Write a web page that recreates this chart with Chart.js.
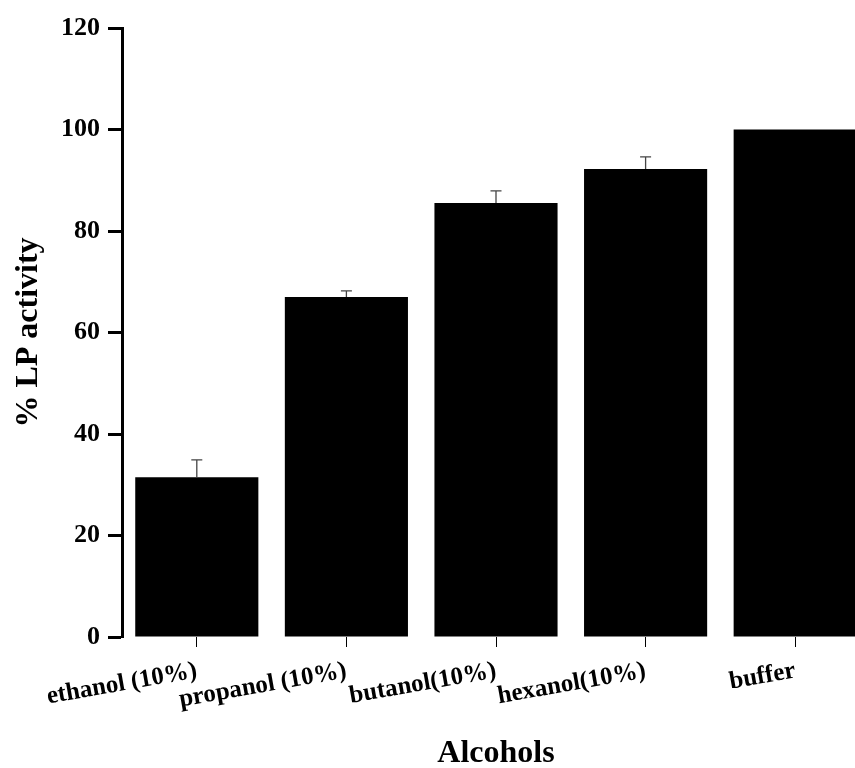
<!DOCTYPE html>
<html>
<head>
<meta charset="utf-8">
<script src="https://cdn.jsdelivr.net/npm/chart.js@4"></script>
<style>
  html, body { margin: 0; padding: 0; background: #fff; overflow: hidden; }
  #wrap { position: absolute; left: 0; top: 0; width: 870px; height: 768px; }
</style>
</head>
<body>
<div id="wrap"><canvas id="lpChart"></canvas></div>
<script>
// categories and values
const alcohols = ['ethanol (10%)', 'propanol (10%)', 'butanol(10%)', 'hexanol(10%)', 'buffer'];
const activity = [31.5, 67.0, 85.5, 92.2, 100];
const errorUp = [3.4, 1.2, 2.4, 2.4, 0];
const yTicks = [0, 20, 40, 60, 80, 100, 120];

const serif = "'Liberation Serif', 'Times New Roman', serif";

// simple upper error bars drawn through the scales
const errorBars = {
    id: 'errorBars',
    afterDatasetsDraw(chart) {
        const ctx = chart.ctx;
        const x = chart.scales.x, y = chart.scales.y;
        ctx.save();
        ctx.strokeStyle = '#444';
        ctx.lineWidth = 1.3;
        activity.forEach((v, i) => {
            if (!errorUp[i]) return;
            const px = x.getPixelForValue(i);
            const top = y.getPixelForValue(v + errorUp[i]);
            const base = y.getPixelForValue(v);
            ctx.beginPath();
            ctx.moveTo(px, base);
            ctx.lineTo(px, top);
            ctx.moveTo(px - 5.5, top);
            ctx.lineTo(px + 5.5, top);
            ctx.stroke();
        });
        ctx.restore();
    }
};

new Chart(document.getElementById('lpChart'), {
    type: 'bar',
    data: {
        labels: alcohols,
        datasets: [{
            data: activity,
            backgroundColor: '#000',
            borderWidth: 0,
            categoryPercentage: 1,
            barPercentage: 0.823
        }]
    },
    options: {
        responsive: true,
        maintainAspectRatio: false,
        animation: false,
        layout: { padding: { top: 28, right: 0, bottom: 0, left: 0 } },
        plugins: {
            legend: { display: false },
            tooltip: { enabled: false }
        },
        scales: {
            x: {
                border: { display: false },
                grid: {
                    offset: false,
                    drawOnChartArea: false,
                    tickLength: 10,
                    tickWidth: 1,
                    tickColor: '#000'
                },
                ticks: {
                    color: '#000',
                    font: { family: serif, size: 25, weight: 'bold' },
                    autoSkip: false,
                    minRotation: 10,
                    maxRotation: 10,
                    padding: 9
                },
                title: {
                    display: true,
                    text: 'Alcohols',
                    color: '#000',
                    font: { family: serif, size: 32, weight: 'bold' },
                    padding: { top: 0, bottom: -5 }
                },
                afterFit(scale) { scale.height = 131; }
            },
            y: {
                min: 0,
                max: 120,
                border: { display: true, color: '#000', width: 3 },
                grid: {
                    drawOnChartArea: false,
                    tickLength: 14,
                    tickWidth: 3,
                    tickColor: '#000'
                },
                afterBuildTicks(scale) {
                    scale.ticks = yTicks.map(v => ({ value: v }));
                },
                ticks: {
                    color: '#000',
                    font: { family: serif, size: 26, weight: 'bold' },
                    padding: 8
                },
                title: {
                    display: true,
                    text: '% LP activity',
                    color: '#000',
                    font: { family: serif, size: 32, weight: 'bold' },
                    padding: { top: 10, bottom: 0 }
                },
                afterFit(scale) { scale.width = 122; }
            }
        }
    },
    plugins: [errorBars]
});
</script>
</body>
</html>
